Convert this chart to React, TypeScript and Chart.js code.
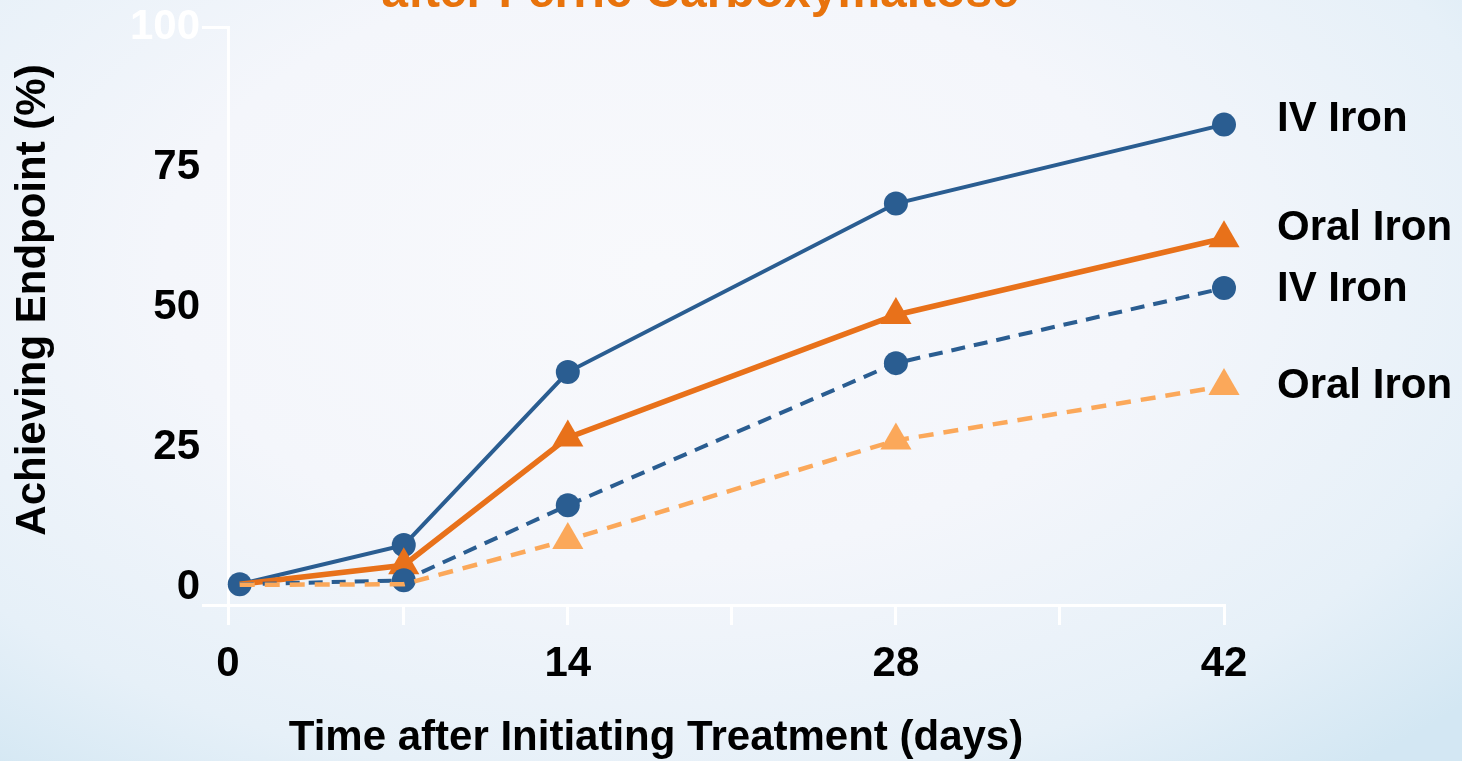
import React, { useEffect, useRef } from 'react';
import { Chart, registerables } from 'chart.js';

Chart.register(...registerables);

const DAYS = [0, 7, 14, 28, 42];
const IV_IRON_SOLID = [0.5, 7.5, 38.4, 68.5, 82.6];
const ORAL_IRON_SOLID = [0.5, 3.9, 26.7, 48.6, 62.3];
const IV_IRON_DASHED = [0.5, 1.2, 14.6, 40.0, 53.4];
const ORAL_IRON_DASHED = [0.4, 0.5, 8.4, 26.2, 35.9];

const SERIES_LABELS = ['IV Iron', 'Oral Iron', 'IV Iron', 'Oral Iron'];
const X_TICKS = [-0.5, 7, 14, 21, 28, 35, 42];
const X_TICK_LABELS = ['0', '', '14', '', '28', '', '42'];
const Y_TICKS = [-3.2, 0, 25, 50, 75, 100];
const Y_TICK_LABELS = ['', '0', '25', '50', '75', '100'];
const TITLE = 'after Ferric Carboxymaltose';
const X_TITLE = 'Time after Initiating Treatment (days)';
const Y_TITLE = 'Achieving Endpoint (%)';

const FONT = '"Liberation Sans", Arial, sans-serif';
const BLUE = '#2A5D91';
const ORANGE = '#E8711A';
const LIGHT_ORANGE = '#FBA85A';

const toPoints = (vals: number[]) => DAYS.map((d, i) => ({ x: d, y: vals[i] }));
// markers hidden on the first `skip` points (overlapping ones are not drawn in the original)
const radiusFrom = (skip: number, r: number) => (c: any) => (c.dataIndex < skip ? 0 : r);

const labelsPlugin = {
  id: 'sideLabels',
  afterDatasetsDraw(chart: any) {
    const { ctx, chartArea } = chart;
    const offsets = [-5, -10, 1, 0];
    ctx.save();
    ctx.font = `bold 42px ${FONT}`;
    ctx.fillStyle = '#000';
    ctx.textAlign = 'left';
    ctx.textBaseline = 'middle';
    SERIES_LABELS.forEach((lab, i) => {
      const meta = chart.getDatasetMeta(i);
      const pt = meta.data[meta.data.length - 1];
      ctx.fillText(lab, chartArea.right + 53, pt.y + offsets[i]);
    });
    ctx.textAlign = 'center';
    ctx.fillText(X_TITLE, 656, 738);
    ctx.save();
    ctx.translate(33, 300);
    ctx.rotate(-Math.PI / 2);
    ctx.fillText(Y_TITLE, 0, 0);
    ctx.restore();
    ctx.font = `bold 48px ${FONT}`;
    ctx.fillStyle = '#E8730C';
    ctx.textAlign = 'center';
    ctx.textBaseline = 'alphabetic';
    ctx.fillText(TITLE, 700, 7);
    ctx.restore();
  },
};

export default function App() {
  const canvasRef = useRef<HTMLCanvasElement | null>(null);

  useEffect(() => {
    if (!canvasRef.current) return;
    const tickFont = { family: FONT, size: 42, weight: 'bold' as const };
    const chart = new Chart(canvasRef.current, {
      type: 'line',
      data: {
        datasets: [
          {
            label: SERIES_LABELS[0],
            data: toPoints(IV_IRON_SOLID),
            borderColor: BLUE,
            backgroundColor: BLUE,
            borderWidth: 4,
            pointStyle: 'circle',
            pointRadius: 12,
            pointBorderWidth: 0,
            clip: false,
            order: 4,
          },
          {
            label: SERIES_LABELS[1],
            data: toPoints(ORAL_IRON_SOLID),
            borderColor: ORANGE,
            backgroundColor: ORANGE,
            borderWidth: 5.5,
            pointStyle: 'triangle',
            pointRadius: radiusFrom(1, 18),
            pointBorderWidth: 0,
            clip: false,
            order: 3,
          },
          {
            label: SERIES_LABELS[2],
            data: toPoints(IV_IRON_DASHED),
            borderColor: BLUE,
            backgroundColor: BLUE,
            borderWidth: 4,
            borderDash: [14, 9],
            pointStyle: 'circle',
            pointRadius: radiusFrom(1, 12),
            pointBorderWidth: 0,
            clip: false,
            order: 2,
          },
          {
            label: SERIES_LABELS[3],
            data: toPoints(ORAL_IRON_DASHED),
            borderColor: LIGHT_ORANGE,
            backgroundColor: LIGHT_ORANGE,
            borderWidth: 4.5,
            borderDash: [15, 10],
            pointStyle: 'triangle',
            pointRadius: radiusFrom(2, 18),
            pointBorderWidth: 0,
            clip: false,
            order: 1,
          },
        ],
      },
      options: {
        animation: false,
        responsive: true,
        maintainAspectRatio: false,
        layout: { padding: { top: 25, right: 238, bottom: 0, left: 0 } },
        plugins: {
          legend: { display: false },
          tooltip: { enabled: false },
          title: { display: false },
        },
        scales: {
          x: {
            type: 'linear',
            min: X_TICKS[0],
            max: X_TICKS[X_TICKS.length - 1],
            afterBuildTicks: (s: any) => {
              s.ticks = X_TICKS.map((v) => ({ value: v }));
            },
            afterFit: (s: any) => {
              s.height = 156;
            },
            border: { display: true, color: '#ffffff', width: 3 },
            grid: {
              drawOnChartArea: false,
              drawTicks: true,
              tickLength: 20,
              color: '#ffffff',
              lineWidth: 3,
            },
            ticks: {
              autoSkip: false,
              maxRotation: 0,
              padding: 14,
              color: '#000',
              font: tickFont,
              callback: (_v: any, i: number) => X_TICK_LABELS[i],
            },
            title: { display: false },
          },
          y: {
            type: 'linear',
            min: Y_TICKS[0],
            max: Y_TICKS[Y_TICKS.length - 1],
            afterBuildTicks: (s: any) => {
              s.ticks = Y_TICKS.map((v) => ({ value: v }));
            },
            afterFit: (s: any) => {
              s.width = 228;
            },
            border: { display: true, color: '#ffffff', width: 3 },
            grid: {
              drawOnChartArea: false,
              drawTicks: true,
              tickLength: 26,
              lineWidth: 3,
              color: (c: any) =>
                c.tick && (c.tick.value === 100 || c.tick.value === Y_TICKS[0])
                  ? '#ffffff'
                  : 'rgba(0,0,0,0)',
            },
            ticks: {
              autoSkip: false,
              padding: 2,
              font: tickFont,
              color: (c: any) => (c.tick && c.tick.value === 100 ? '#ffffff' : '#000000'),
              callback: (_v: any, i: number) => Y_TICK_LABELS[i],
            },
            title: { display: false },
          },
        },
      },
      plugins: [labelsPlugin],
    });
    return () => chart.destroy();
  }, []);

  return (
    <div
      style={{
        position: 'fixed',
        left: 0,
        top: 0,
        width: 1462,
        height: 761,
        background:
          'radial-gradient(ellipse 75% 85% at 45% 35%, #f8f9fc 0%, #f4f6fb 45%, #e6f0f8 80%, #d3e7f3 100%)',
      }}
    >
      <canvas ref={canvasRef} />
    </div>
  );
}
